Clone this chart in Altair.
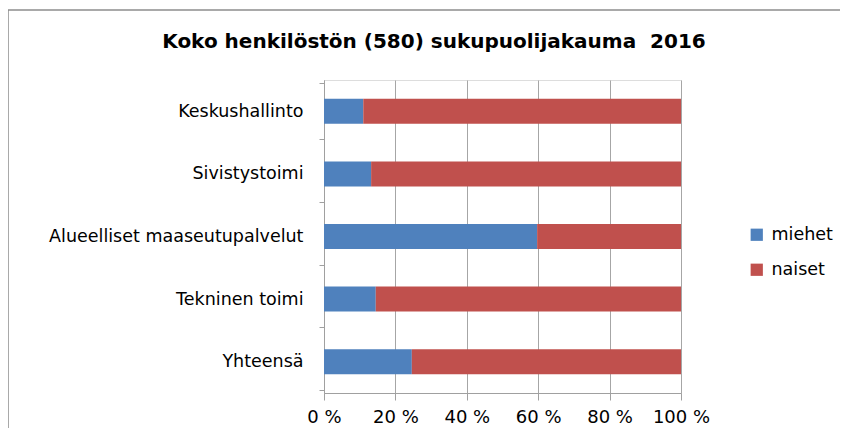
import altair as alt
import pandas as pd

categories = ["Keskushallinto", "Sivistystoimi", "Alueelliset maaseutupalvelut", "Tekninen toimi", "Yhteensä"]
miehet = [11.0, 13.2, 59.7, 14.5, 24.6]
naiset = [89.0, 86.8, 40.3, 85.5, 75.4]
series = ["miehet", "naiset"]
colors = ["#4F81BD", "#C0504D"]
title_text = "Koko henkilöstön (580) sukupuolijakauma\u00a0 2016"

rows = []
for c, m, n in zip(categories, miehet, naiset):
    rows.append({"cat": c, "sarja": "miehet", "val": m, "ord": 0})
    rows.append({"cat": c, "sarja": "naiset", "val": n, "ord": 1})
df = pd.DataFrame(rows)
title_df = pd.DataFrame({"t": [title_text]})

FONT = "DejaVu Sans"

bars = alt.Chart(df).mark_bar(size=25).encode(
    y=alt.Y("cat:N", sort=categories, title=None,
            axis=alt.Axis(tickBand="extent", labelFontSize=17.5, labelFont=FONT, labelColor="#000000",
                          labelPadding=16, tickSize=5, tickColor="#a0a0a0", domainColor="#a0a0a0",
                          grid=False, labelLimit=0)),
    x=alt.X("val:Q", stack="normalize", title=None,
            scale=alt.Scale(domain=[0, 1], nice=False),
            axis=alt.Axis(values=[0, 0.2, 0.4, 0.6, 0.8, 1.0],
                          labelExpr="round(datum.value*100) + ' %'",
                          labelFontSize=18, labelFont=FONT, labelColor="#000000",
                          labelFlush=False, labelOverlap=False,
                          tickSize=7, tickColor="#a0a0a0", domainColor="#a0a0a0",
                          grid=True, gridColor="#a6a6a6", labelPadding=8)),
    color=alt.Color("sarja:N", scale=alt.Scale(domain=series, range=colors), title=None,
                    legend=alt.Legend(orient="none", legendX=424, legendY=146, symbolType="square",
                                      symbolSize=150, symbolStrokeWidth=0, labelFontSize=17.5, labelFont=FONT,
                                      labelColor="#000000", rowPadding=16, labelOffset=6, padding=0)),
    order=alt.Order("ord:Q"),
)

title = alt.Chart(title_df).mark_text(font=FONT, fontSize=20, fontWeight="bold", color="#000000",
                                      align="center", baseline="middle").encode(
    x=alt.value(110), y=alt.value(-38), text="t:N"
)

border = alt.Chart(title_df).mark_rule(color="#8c8c8c", strokeWidth=1.5).encode(
    x=alt.value(-316), x2=alt.value(-316), y=alt.value(-70), y2=alt.value(400)
)
border_top = alt.Chart(title_df).mark_rule(color="#8c8c8c", strokeWidth=1.5).encode(
    x=alt.value(-316), x2=alt.value(540), y=alt.value(-70), y2=alt.value(-70)
)

chart = alt.layer(bars, title, border, border_top).properties(
    width=357, height=313,
    autosize=alt.AutoSizeParams(type="none"),
    padding={"left": 316, "top": 72, "right": 159, "bottom": 35},
).configure_view(stroke=None).configure(background="white")

chart.save("out.html", embed_options={"renderer": "svg", "actions": False})
